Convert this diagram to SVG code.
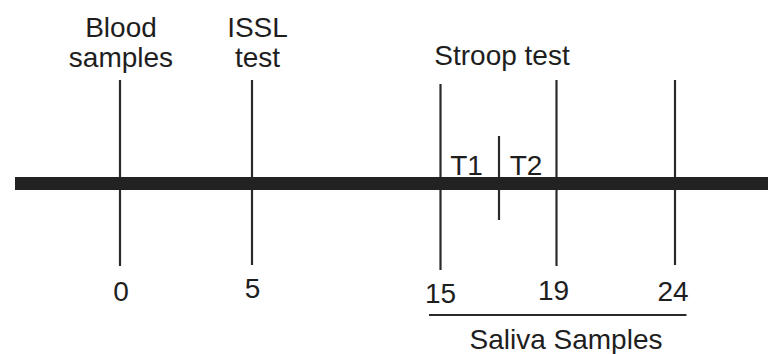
<svg xmlns="http://www.w3.org/2000/svg" width="768" height="354" viewBox="0 0 768 354">
<style>
text{font-family:"Liberation Sans",Arial,sans-serif;font-size:28px;fill:#1e1e1e;text-anchor:middle}
.tick{stroke:#2a2a2a;stroke-width:2.2;fill:none}
</style>
<rect width="768" height="354" fill="#fff"/>
<g id="connectors">
<line class="tick" x1="120" y1="80" x2="120" y2="266"/>
<line class="tick" x1="252" y1="80" x2="252" y2="265"/>
<line class="tick" x1="440.5" y1="84" x2="440.5" y2="270"/>
<line class="tick" x1="499" y1="136" x2="499" y2="220"/>
<line class="tick" x1="556.5" y1="80" x2="556.5" y2="266"/>
<line class="tick" x1="675" y1="80" x2="675" y2="265"/>
<line class="tick" x1="429" y1="315" x2="686.5" y2="315"/>
</g>
<g id="timeline">
<rect x="15" y="177" width="753" height="13" fill="#222"/>
</g>
<g id="blood">
<text x="121" y="37">Blood</text>
<text x="121" y="67">samples</text>
</g>
<g id="issl">
<text x="257.5" y="37">ISSL</text>
<text x="257.5" y="67">test</text>
</g>
<g id="stroop">
<text x="502" y="65">Stroop test</text>
<text x="466.5" y="175">T1</text>
<text x="526" y="175">T2</text>
</g>
<g id="numbers">
<text x="121" y="301">0</text>
<text x="252.5" y="298">5</text>
<text x="440.5" y="303">15</text>
<text x="553.5" y="299.5">19</text>
<text x="673" y="300.5">24</text>
</g>
<g id="saliva">
<text x="566" y="349">Saliva Samples</text>
</g>
</svg>
